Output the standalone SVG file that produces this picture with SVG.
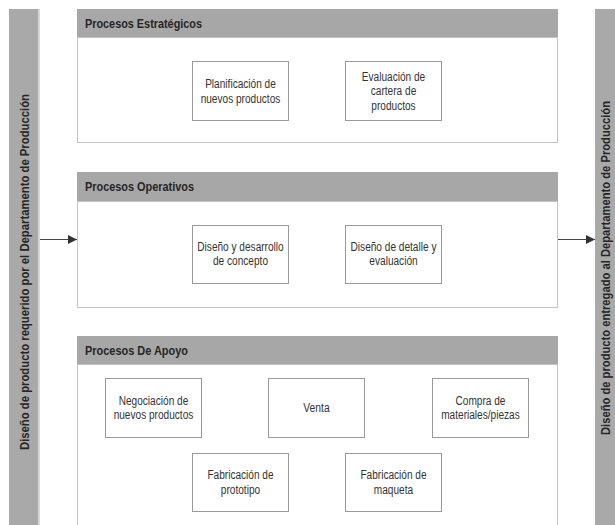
<svg xmlns="http://www.w3.org/2000/svg" width="615" height="525" viewBox="0 0 615 525">
<style>
.bar{fill:#a9a9a9}
.hdr{fill:#a7a7a7}
.body{fill:#fff;stroke:#c4c4c4;stroke-width:1}
.box{fill:#fff;stroke:#9a9a9a;stroke-width:1}
.sh{fill:#d8d8d8}
.ht{font-family:"Liberation Sans",Arial,sans-serif;font-size:12.5px;font-weight:bold;fill:#262626}
.bt{font-family:"Liberation Sans",Arial,sans-serif;font-size:12px;fill:#333;text-anchor:middle}
.st{font-family:"Liberation Sans",Arial,sans-serif;font-size:12.5px;font-weight:bold;fill:#262626;text-anchor:middle}
.conn{stroke:#444;stroke-width:1.2;fill:none}
</style>
<defs>
<marker id="ah" viewBox="0 0 10 10" refX="10" refY="5" markerWidth="9" markerHeight="9" markerUnits="userSpaceOnUse" orient="auto">
<path d="M0,0 L10,5 L0,10 z" fill="#333"/>
</marker>
</defs>
<rect width="615" height="525" fill="#fff"/>

<g id="left-bar">
<rect x="38" y="9" width="2" height="516" class="sh"/>
<rect x="9" y="9" width="29" height="516" class="bar"/>
<text class="st" transform="translate(28.5,272) rotate(-90)" textLength="356" lengthAdjust="spacingAndGlyphs">Diseño de producto requerido por el Departamento de Producción</text>
</g>

<g id="right-bar">
<rect x="595" y="9" width="20" height="516" class="bar"/>
<text class="st" transform="translate(609.5,268) rotate(-90)" textLength="334" lengthAdjust="spacingAndGlyphs">Diseño de producto entregado al Departamento de Producción</text>
</g>

<g id="panel-estrategicos">
<rect x="77.5" y="37.5" width="480" height="105" class="body"/>
<rect x="77" y="9" width="481" height="28" class="hdr"/>
<text class="ht" x="85" y="27.5" textLength="117" lengthAdjust="spacingAndGlyphs">Procesos Estratégicos</text>
</g>
<g id="planificacion">
<rect x="192.5" y="61.5" width="96" height="59" class="box"/>
<text class="bt" x="240.5" y="87.5" textLength="70.7" lengthAdjust="spacingAndGlyphs">Planificación de</text>
<text class="bt" x="240.5" y="102.5" textLength="79.7" lengthAdjust="spacingAndGlyphs">nuevos productos</text>
</g>
<g id="evaluacion-cartera">
<rect x="345.5" y="61.5" width="96" height="59" class="box"/>
<text class="bt" x="393.5" y="80.5" textLength="63.4" lengthAdjust="spacingAndGlyphs">Evaluación de</text>
<text class="bt" x="393.5" y="95" textLength="45.5" lengthAdjust="spacingAndGlyphs">cartera de</text>
<text class="bt" x="393.5" y="110" textLength="44.3" lengthAdjust="spacingAndGlyphs">productos</text>
</g>

<g id="panel-operativos">
<rect x="77.5" y="201.5" width="480" height="106" class="body"/>
<rect x="77" y="172" width="481" height="29" class="hdr"/>
<text class="ht" x="85" y="191" textLength="109" lengthAdjust="spacingAndGlyphs">Procesos Operativos</text>
</g>
<g id="diseno-concepto">
<rect x="192.5" y="225.5" width="96" height="58" class="box"/>
<text class="bt" x="240.5" y="250.5" textLength="86.4" lengthAdjust="spacingAndGlyphs">Diseño y desarrollo</text>
<text class="bt" x="240.5" y="265" textLength="55" lengthAdjust="spacingAndGlyphs">de concepto</text>
</g>
<g id="diseno-detalle">
<rect x="345.5" y="225.5" width="96" height="58" class="box"/>
<text class="bt" x="393.5" y="250.5" textLength="85.9" lengthAdjust="spacingAndGlyphs">Diseño de detalle y</text>
<text class="bt" x="393.5" y="265" textLength="48.3" lengthAdjust="spacingAndGlyphs">evaluación</text>
</g>

<g id="panel-apoyo">
<rect x="77.5" y="364.5" width="480" height="170" class="body"/>
<rect x="77" y="336" width="481" height="28" class="hdr"/>
<text class="ht" x="85" y="355" textLength="103" lengthAdjust="spacingAndGlyphs">Procesos De Apoyo</text>
</g>
<g id="negociacion">
<rect x="105.5" y="378.5" width="96" height="59" class="box"/>
<text class="bt" x="153.5" y="405" textLength="69.6" lengthAdjust="spacingAndGlyphs">Negociación de</text>
<text class="bt" x="153.5" y="419" textLength="79.7" lengthAdjust="spacingAndGlyphs">nuevos productos</text>
</g>
<g id="venta">
<rect x="268.5" y="378.5" width="96" height="59" class="box"/>
<text class="bt" x="316.5" y="411.5" textLength="26.4" lengthAdjust="spacingAndGlyphs">Venta</text>
</g>
<g id="compra">
<rect x="432.5" y="378.5" width="96" height="59" class="box"/>
<text class="bt" x="480.5" y="405" textLength="50" lengthAdjust="spacingAndGlyphs">Compra de</text>
<text class="bt" x="480.5" y="419" textLength="78.6" lengthAdjust="spacingAndGlyphs">materiales/piezas</text>
</g>
<g id="fab-prototipo">
<rect x="192.5" y="453.5" width="96" height="58" class="box"/>
<text class="bt" x="240.5" y="479" textLength="66.2" lengthAdjust="spacingAndGlyphs">Fabricación de</text>
<text class="bt" x="240.5" y="494" textLength="39.3" lengthAdjust="spacingAndGlyphs">prototipo</text>
</g>
<g id="fab-maqueta">
<rect x="345.5" y="453.5" width="96" height="58" class="box"/>
<text class="bt" x="393.5" y="479" textLength="66.2" lengthAdjust="spacingAndGlyphs">Fabricación de</text>
<text class="bt" x="393.5" y="494" textLength="39.3" lengthAdjust="spacingAndGlyphs">maqueta</text>
</g>

<g id="connectors">
<line class="conn" x1="40" y1="239.5" x2="77" y2="239.5" marker-end="url(#ah)"/>
<line class="conn" x1="558" y1="239.5" x2="595" y2="239.5" marker-end="url(#ah)"/>
</g>
</svg>
